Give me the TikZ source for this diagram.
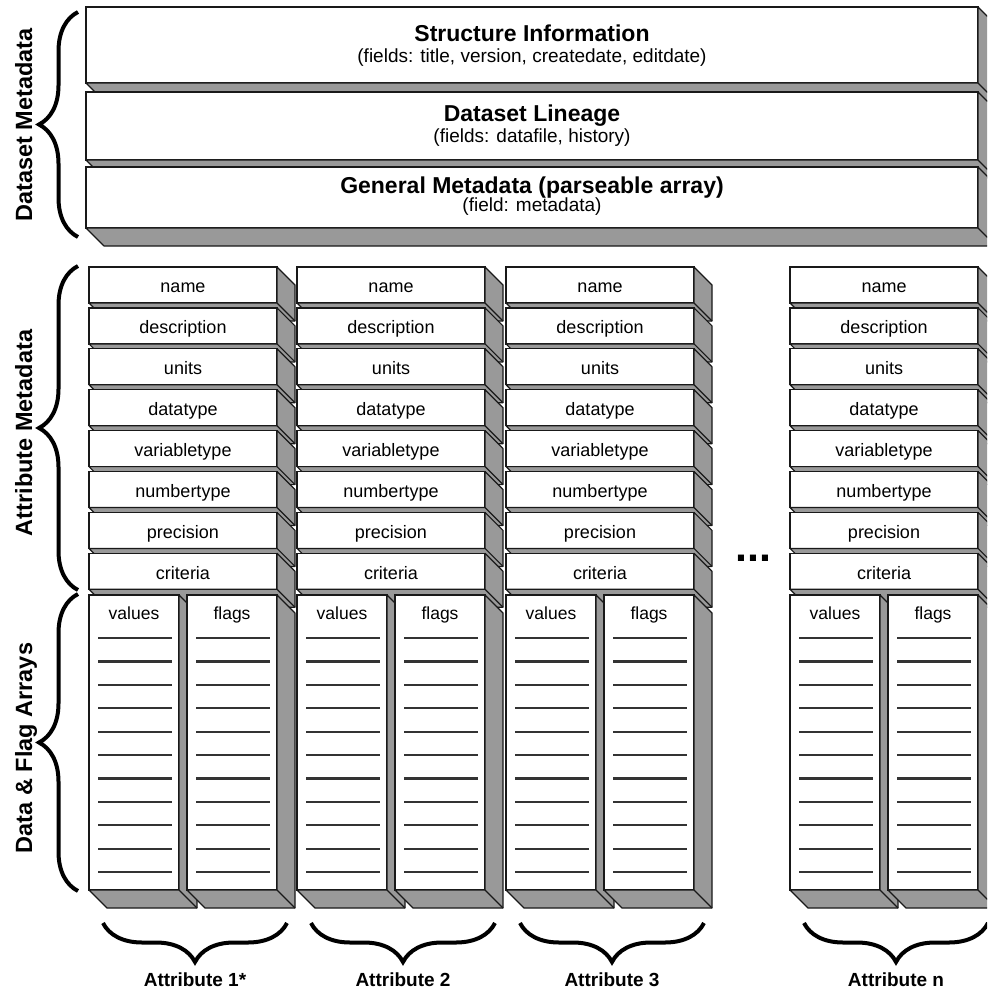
\documentclass[tikz,border=0pt]{standalone}
\usepackage{fontspec}
\setmainfont{Liberation Sans}
\usepackage{tikz}
\usetikzlibrary{positioning, calc, decorations.pathreplacing}
\definecolor{slabgray}{RGB}{153,153,153}
\definecolor{edgeblack}{RGB}{25,25,25}
\newcommand{\dep}{18}
% grey right side and bottom of a block, drawn after its front
\newcommand{\slab}[1]{%
  \filldraw[face] (#1.north east) -- ++(\dep,\dep) -- ($(#1.south east)+(\dep,\dep)$)
    -- ($(#1.south west)+(\dep,\dep)$) -- (#1.south west) -- (#1.south east) -- cycle;
  \draw[face] (#1.south east) -- ++(\dep,\dep);
}
\tikzset{
  front/.style={draw=edgeblack, fill=white, line width=1.2pt, inner sep=0pt, outer sep=0pt, anchor=north west}, % white front face
  face/.style={draw=edgeblack, fill=slabgray, line width=1.2pt, line join=round}, % shaded sides
  wide/.style={front, minimum width=892pt}, % dataset metadata blocks
  cell/.style={front, minimum width=188pt, minimum height=36pt, text height=15.5pt, text depth=0pt,
    font=\fontsize{18}{21}\selectfont}, % one attribute field
  arraybox/.style={front, minimum width=90pt, minimum height=295pt}, % values or flags column
  head/.style={inner sep=0pt, font=\fontsize{23}{27}\selectfont\bfseries},
  sub/.style={inner sep=0pt, font=\fontsize{19}{22}\selectfont},
  tag/.style={inner sep=0pt, text height=13pt, text depth=0pt, font=\fontsize{17.5}{21}\selectfont},
  rule/.style={line width=2.2pt, draw=black!80},
  side/.style={inner sep=0pt, rotate=90, anchor=base, font=\fontsize{23.5}{28}\selectfont\bfseries},
  foot/.style={inner sep=0pt, anchor=base, font=\fontsize{19}{22}\selectfont\bfseries},
  brace/.style={decorate, decoration={brace, amplitude=39pt}, line width=4pt},
}

\begin{document}
\begin{tikzpicture}[x=1pt, y=-1pt]
\useasboundingbox (0,0) rectangle (987,992);
\clip (0,0) rectangle (987,992);

% dataset metadata
\node[wide, minimum height=76pt] (info) at (86,7) {};
\slab{info}
\node[head, anchor=base] (infot) at ($(info.center)+(0,-3)$) {Structure Information};
\node[sub, anchor=base] (infos) at ($(info.center)+(0,18)$) {(fields: title, version, createdate, editdate)};

\node[wide, minimum height=68pt] (lineage) at (86,92) {};
\slab{lineage}
\node[head, anchor=base] (lineaget) at ($(lineage.center)+(0,-4)$) {Dataset Lineage};
\node[sub, anchor=base] (lineages) at ($(lineage.center)+(0,17)$) {(fields: datafile, history)};

\node[wide, minimum height=61pt] (general) at (86,167) {};
\slab{general}
\node[head, anchor=base] (generalt) at ($(general.center)+(0,-4)$) {General Metadata (parseable array)};
\node[sub, anchor=base] (generals) at ($(general.center)+(0,14)$) {(field: metadata)};

% attributes
\foreach \c/\x/\num in {1/89/1*, 2/297/2, 3/506/3, n/790/n} {
  \foreach \t [count=\i from 0] in {name, description, units, datatype, variabletype, numbertype, precision, criteria} {
    \node[cell] (a\c-\i) at (\x, 267+40.9*\i) {\t};
    \slab{a\c-\i}
  }
  \node[arraybox] (v\c) at (\x, 595) {};
  \slab{v\c}
  \node[arraybox] (f\c) at (\x+98, 595) {};
  \slab{f\c}
  \node[tag, below=11pt of v\c.north] (vt\c) {values};
  \node[tag, below=11pt of f\c.north] (ft\c) {flags};
  \foreach \k in {0,...,10} {
    \draw[rule] ($(v\c.north west)+(9,43+23.4*\k)$) -- ($(v\c.north east)+(-7,43+23.4*\k)$);
    \draw[rule] ($(f\c.north west)+(9,43+23.4*\k)$) -- ($(f\c.north east)+(-7,43+23.4*\k)$);
  }
  \coordinate (bl\c) at (\x+14, 923);
  \coordinate (br\c) at (\x+198, 923);
  \draw[brace] (br\c) -- (bl\c);
  \node[foot] (lab\c) at (\x+106, 986) {Attribute \num};
}

\node[inner sep=0pt, anchor=base, font=\fontsize{43}{43}\selectfont\bfseries] (dots) at (753,561) {...};

% braces on the left
\coordinate (dmtop) at (78,12);
\coordinate (dmbot) at (78,237);
\draw[brace] (dmbot) -- (dmtop);
\node[side] (dmlab) at (32,125) {Dataset Metadata};

\coordinate (amtop) at (78,266);
\coordinate (ambot) at (78,590);
\draw[brace] (ambot) -- (amtop);
\node[side] (amlab) at (32,433) {Attribute Metadata};

\coordinate (dftop) at (78,594);
\coordinate (dfbot) at (78,891);
\draw[brace] (dfbot) -- (dftop);
\node[side] (dflab) at (32,748) {Data \& Flag Arrays};
\end{tikzpicture}
\end{document}
